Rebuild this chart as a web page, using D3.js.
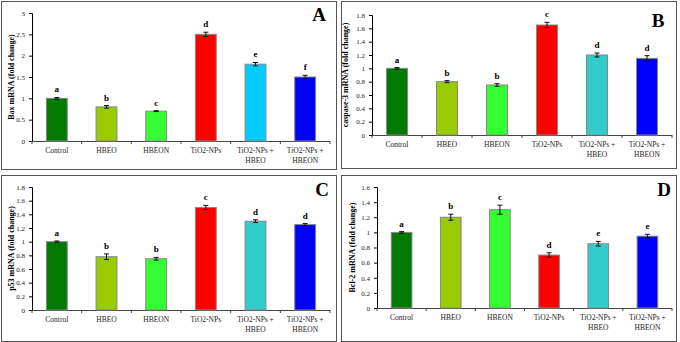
<!DOCTYPE html>
<html>
<head>
<meta charset="utf-8">
<script src="https://cdn.jsdelivr.net/npm/d3@7"></script>
<style>
  body { margin: 0; background: #fff; }
  text { font-family: "Liberation Serif", "Times New Roman", serif; }
</style>
</head>
<body>
<div id="chart"></div>
<script>
// groups (category labels, split on two lines where needed)
const groups = [["Control"], ["HBEO"], ["HBEON"], ["TiO2-NPs"], ["TiO2-NPs +", "HBEO"], ["TiO2-NPs +", "HBEON"]]

// fold change values per gene
const baxVals   = [1.0, 0.8, 0.7, 2.5, 1.8, 1.5]
const baxErr    = [0.02, 0.03, 0.01, 0.05, 0.04, 0.04]
const baxSig    = ["a", "b", "c", "d", "e", "f"]

const caspVals  = [1.0, 0.8, 0.75, 1.65, 1.2, 1.15]
const caspErr   = [0.01, 0.015, 0.02, 0.04, 0.03, 0.04]
const caspSig   = ["a", "b", "b", "c", "d", "d"]

const p53Vals   = [1.0, 0.78, 0.75, 1.5, 1.3, 1.25]
const p53Err    = [0.01, 0.04, 0.02, 0.03, 0.02, 0.015]
const p53Sig    = ["a", "b", "b", "c", "d", "d"]

const bclVals   = [1.0, 1.2, 1.3, 0.7, 0.85, 0.95]
const bclErr    = [0.01, 0.04, 0.06, 0.03, 0.03, 0.025]
const bclSig    = ["a", "b", "c", "d", "e", "e"]

const colorsA = ["#007a00", "#99cc00", "#33ff33", "#ff0000", "#00ccff", "#0000ff"]
const colorsB = ["#007a00", "#99cc00", "#33ff33", "#ff0000", "#33cccc", "#0000ff"]

let svg = d3.select("#chart").append("svg")
  .attr("width", 680).attr("height", 342)

//one panel per gene
const panels = [
  {letter: "A", title: "Bax mRNA (fold change)", vals: baxVals, err: baxErr, sig: baxSig, colors: colorsA,
   yMax: 3, step: 0.5, box: [1, 1, 335, 168], x0: 32, x1: 330, yTop: 13, yBot: 141, titleX: 12, lx: 319, ly: 21},
  {letter: "B", title: "caspase-3 mRNA (fold change)", vals: caspVals, err: caspErr, sig: caspSig, colors: colorsB,
   yMax: 1.8, step: 0.2, box: [341, 1, 335, 167], x0: 372, x1: 672, yTop: 15, yBot: 135, titleX: 346, lx: 658, ly: 27},
  {letter: "C", title: "p53 mRNA (fold change)", vals: p53Vals, err: p53Err, sig: p53Sig, colors: colorsB,
   yMax: 1.8, step: 0.2, box: [1, 175, 335, 166], x0: 32, x1: 330, yTop: 187, yBot: 310, titleX: 12, lx: 322, ly: 196},
  {letter: "D", title: "Bcl-2 mRNA (fold change)", vals: bclVals, err: bclErr, sig: bclSig, colors: colorsB,
   yMax: 1.6, step: 0.2, box: [341, 175, 335, 166], x0: 377, x1: 672, yTop: 187, yBot: 308, titleX: 353, lx: 664, ly: 196}
]

panels.forEach(p => {
  let g = svg.append("g")

  g.append("rect")
    .attr("x", p.box[0] + 0.5).attr("y", p.box[1] + 0.5)
    .attr("width", p.box[2]).attr("height", p.box[3])
    .attr("fill", "none").attr("stroke", "#555").attr("stroke-width", 1)

  let x = d3.scaleBand().domain(d3.range(groups.length)).range([p.x0, p.x1]).paddingInner(0).paddingOuter(0)
  let y = d3.scaleLinear().domain([0, p.yMax]).range([p.yBot, p.yTop])

  let ticks = d3.range(0, p.yMax + 1e-9, p.step).map(v => +v.toFixed(2))
  let yAxis = d3.axisLeft(y).tickValues(ticks).tickSize(3).tickPadding(4).tickFormat(d => String(d))
  let ya = g.append("g").attr("transform", `translate(${p.x0},0)`).call(yAxis)
  ya.select(".domain").attr("stroke", "#000").attr("d", `M-3,${p.yTop}.5H0.5V${p.yBot}`)
  ya.selectAll("text").attr("font-size", 7).attr("fill", "#222").attr("font-family", "Liberation Serif")

  // x axis: line plus ticks at category boundaries
  g.append("line").attr("x1", p.x0).attr("x2", p.x1).attr("y1", p.yBot + 0.5).attr("y2", p.yBot + 0.5)
    .attr("stroke", "#444")
  g.selectAll(".xtick").data(d3.range(groups.length + 1)).enter().append("line")
    .attr("x1", i => p.x0 + i * x.bandwidth()).attr("x2", i => p.x0 + i * x.bandwidth())
    .attr("y1", p.yBot).attr("y2", p.yBot + 3).attr("stroke", "#444")

  // bars
  let bw = x.bandwidth() * 0.42
  g.selectAll(".bar").data(p.vals).enter().append("rect")
    .attr("x", (d, i) => x(i) + (x.bandwidth() - bw) / 2)
    .attr("y", d => y(d))
    .attr("width", bw)
    .attr("height", d => p.yBot - y(d))
    .attr("fill", (d, i) => p.colors[i])
    .attr("stroke", "#888").attr("stroke-width", 1)

  // error bars
  p.vals.forEach((v, i) => {
    let cx = x(i) + x.bandwidth() / 2
    let e = p.err[i]
    let eb = g.append("g").attr("stroke", "#111").attr("stroke-width", 1)
    eb.append("line").attr("x1", cx).attr("x2", cx).attr("y1", y(v - e)).attr("y2", y(v + e))
    eb.append("line").attr("x1", cx - 2.5).attr("x2", cx + 2.5).attr("y1", y(v - e)).attr("y2", y(v - e))
    eb.append("line").attr("x1", cx - 2.5).attr("x2", cx + 2.5).attr("y1", y(v + e)).attr("y2", y(v + e))
    g.append("text").attr("x", cx).attr("y", y(v + e) - 5)
      .attr("text-anchor", "middle").attr("font-size", 9).attr("font-weight", "bold")
      .text(p.sig[i])
  })

  // category labels
  groups.forEach((lines, i) => {
    let t = g.append("text").attr("x", x(i) + x.bandwidth() / 2).attr("y", p.yBot + 12)
      .attr("text-anchor", "middle").attr("font-size", 7.5).attr("fill", "#222")
    lines.forEach((l, k) => {
      t.append("tspan").attr("x", x(i) + x.bandwidth() / 2).attr("dy", k ? 10 : 0).text(l)
    })
  })

  // y title
  g.append("text")
    .attr("transform", `translate(${p.titleX},${(p.yTop + p.yBot) / 2}) rotate(-90)`)
    .attr("text-anchor", "middle").attr("dominant-baseline", "middle")
    .attr("font-size", 8).attr("font-weight", "bold")
    .text(p.title)

  // panel letter
  g.append("text").attr("x", p.lx).attr("y", p.ly)
    .attr("text-anchor", "middle").attr("font-size", 19).attr("font-weight", "bold")
    .text(p.letter)
})
</script>
</body>
</html>
